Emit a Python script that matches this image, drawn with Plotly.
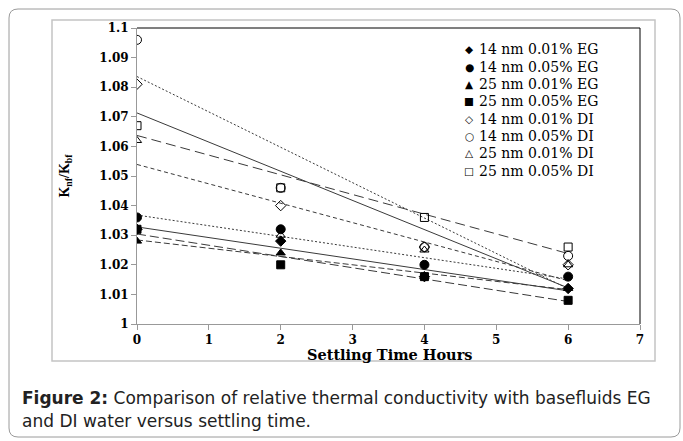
import numpy as np
import plotly.graph_objects as go

# ---------------- data ----------------
times = [0, 2, 4, 6]
series_names = [
    "14 nm 0.01% EG", "14 nm 0.05% EG", "25 nm 0.01% EG", "25 nm 0.05% EG",
    "14 nm 0.01% DI", "14 nm 0.05% DI", "25 nm 0.01% DI", "25 nm 0.05% DI",
]
eg_14_001 = [1.032, 1.028, 1.016, 1.012]
eg_14_005 = [1.036, 1.032, 1.020, 1.016]
eg_25_001 = [1.028, 1.024, 1.016, 1.012]
eg_25_005 = [1.032, 1.020, 1.016, 1.008]
di_14_001 = [1.081, 1.040, 1.026, 1.020]
di_14_005 = [1.096, 1.046, 1.026, 1.023]
di_25_001 = [1.062, 1.030, 1.025, 1.020]
di_25_005 = [1.067, 1.046, 1.036, 1.026]
all_values = [eg_14_001, eg_14_005, eg_25_001, eg_25_005,
              di_14_001, di_14_005, di_25_001, di_25_005]

y_ticks = [1.0, 1.01, 1.02, 1.03, 1.04, 1.05, 1.06, 1.07, 1.08, 1.09, 1.1]
y_tick_text = ["1", "1.01", "1.02", "1.03", "1.04", "1.05", "1.06", "1.07", "1.08", "1.09", "1.1"]
x_ticks = [0, 1, 2, 3, 4, 5, 6, 7]

# ---------------- styles ----------------
symbols = ["diamond", "circle", "triangle-up", "square",
           "diamond-open", "circle-open", "triangle-up-open", "square-open"]
legend_glyphs = ["◆", "●", "▲", "■", "◇", "○", "△", "□"]
sizes = [8, 9, 8, 8, 8, 9, 8, 8]
dashes = ["solid", "2px,2px", "6px,3px", "9px,4px",
          "solid", "2px,2px", "4px,3px", "10px,5px"]

SERIF = "DejaVu Serif"
SANS = "DejaVu Sans"

fig = go.Figure()

# trend lines (least squares fits of each series)
for vals, dash in zip(all_values, dashes):
    slope, intercept = np.polyfit(times, vals, 1)
    xs = [times[0], times[-1]]
    fig.add_trace(go.Scatter(
        x=xs, y=[intercept + slope * t for t in xs], mode="lines",
        line=dict(color="#3a3a3a", width=1, dash=dash),
        showlegend=False, hoverinfo="skip"))

# markers
for name, vals, sym, sz in zip(series_names, all_values, symbols, sizes):
    fig.add_trace(go.Scatter(
        x=times, y=vals, mode="markers", name=name, showlegend=False,
        marker=dict(symbol=sym, size=sz, color="black",
                    line=dict(color="black", width=1))))

W, H = 683, 441
L, R, T, B = 137, 640, 28, 324


def px(x):
    return (x - L) / (R - L)


def py(y):
    return (B - y) / (B - T)


shapes = []
# outer rounded border
x0, x1, y0, y1, r = 9, 680, 9, 437, 9
path = (f"M {px(x0 + r)},{py(y0)} L {px(x1 - r)},{py(y0)} "
        f"Q {px(x1)},{py(y0)} {px(x1)},{py(y0 + r)} "
        f"L {px(x1)},{py(y1 - r)} Q {px(x1)},{py(y1)} {px(x1 - r)},{py(y1)} "
        f"L {px(x0 + r)},{py(y1)} Q {px(x0)},{py(y1)} {px(x0)},{py(y1 - r)} "
        f"L {px(x0)},{py(y0 + r)} Q {px(x0)},{py(y0)} {px(x0 + r)},{py(y0)} Z")
shapes.append(dict(type="path", xref="paper", yref="paper", path=path,
                   line=dict(color="#9a9a9a", width=1)))
# inner chart frame
shapes.append(dict(type="rect", xref="paper", yref="paper",
                   x0=px(52), x1=px(655), y0=py(20), y1=py(361),
                   line=dict(color="#c4c4c4", width=1.5)))
# plot area top and right borders
shapes.append(dict(type="line", xref="paper", yref="paper", x0=0, x1=1, y0=1, y1=1,
                   line=dict(color="black", width=1)))
shapes.append(dict(type="line", xref="paper", yref="paper", x0=1, x1=1, y0=0, y1=1,
                   line=dict(color="black", width=1)))

annotations = [
    dict(xref="paper", yref="paper", x=px(20), y=py(398), xanchor="left", yanchor="middle",
         text="<b>Figure 2:</b> Comparison of relative thermal conductivity with basefluids EG",
         showarrow=False, font=dict(family=SANS, size=17, color="#222")),
    dict(xref="paper", yref="paper", x=px(20), y=py(421), xanchor="left", yanchor="middle",
         text="and DI water versus settling time.",
         showarrow=False, font=dict(family=SANS, size=17, color="#222")),
    dict(xref="paper", yref="paper", x=px(389), y=py(354), xanchor="center", yanchor="middle",
         text="<b>Settling Time Hours</b>", showarrow=False,
         font=dict(family=SERIF, size=14.5, color="black")),
]

# legend drawn as text rows
row0, row_gap = 49.3, 17.35
for i, (glyph, name) in enumerate(zip(legend_glyphs, series_names)):
    yy = py(row0 + i * row_gap)
    annotations.append(dict(xref="paper", yref="paper", x=px(469), y=yy,
                            xanchor="center", yanchor="middle", text=glyph,
                            showarrow=False,
                            font=dict(family="DejaVu Sans", size=10.5, color="black")))
    annotations.append(dict(xref="paper", yref="paper", x=px(477), y=yy,
                            xanchor="left", yanchor="middle", text=name,
                            showarrow=False,
                            font=dict(family=SERIF, size=14, color="black")))

fig.update_layout(
    width=W, height=H,
    margin=dict(l=L, r=W - R, t=T, b=H - B, pad=0),
    paper_bgcolor="white", plot_bgcolor="white",
    showlegend=False,
    shapes=shapes, annotations=annotations,
    xaxis=dict(range=[0, 7], tickvals=x_ticks, showgrid=False, zeroline=False,
               showline=True, linecolor="#999", linewidth=1,
               ticks="outside", ticklen=5, tickcolor="#999",
               tickfont=dict(family=SERIF, size=12, color="black", weight="bold")),
    yaxis=dict(range=[1, 1.1], tickvals=y_ticks, ticktext=y_tick_text,
               showgrid=False, zeroline=False,
               showline=True, linecolor="#999", linewidth=1,
               ticks="outside", ticklen=5, tickcolor="#999",
               tickfont=dict(family=SERIF, size=12, color="black", weight="bold"),
               title=dict(text="<b>K<sub>nf</sub>/K<sub>bf</sub></b>", standoff=26,
                          font=dict(family="Liberation Serif", size=14, color="black"))),
)

fig.write_html("out.html", config={"displayModeBar": False},
               post_script="document.body.style.margin='0px';")
